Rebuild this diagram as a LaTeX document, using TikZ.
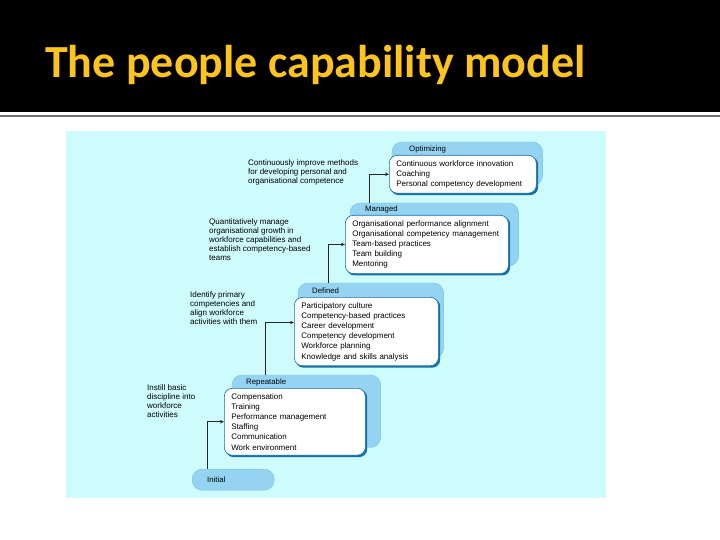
\documentclass[tikz,border=0pt]{standalone}
\usepackage{fontspec}
\setmainfont{Liberation Sans}
\newfontfamily\titlefont{Carlito}
\usepackage{tikz}
\usetikzlibrary{
  arrows.meta,
  positioning,
  fit,
  backgrounds
}
\definecolor{titleyellow}{RGB}{252,196,28}
\definecolor{panelcyan}{RGB}{206,251,252}
\definecolor{tabblue}{RGB}{148,212,242}
\definecolor{tabedge}{RGB}{120,192,230}
\definecolor{edgeblue}{RGB}{22,112,168}
\definecolor{rulegray}{RGB}{112,112,112}

\begin{document}
\begin{tikzpicture}[x=1pt, y=-1pt,
  stage/.style={draw=edgeblue, line width=0.6pt, fill=white, rounded corners=8pt,
                anchor=north west, align=left, inner xsep=7pt, inner ysep=5pt,
                font=\fontsize{8}{10.2}\selectfont},
  tab/.style={fill=tabblue, draw=tabedge, line width=0.4pt, rounded corners=10pt,
              inner sep=0pt},
  tablbl/.style={anchor=base west, inner sep=0pt, font=\fontsize{7.8}{9}\selectfont},
  goal/.style={anchor=north west, align=left, inner sep=0pt,
               font=\fontsize{8}{8.8}\selectfont},
  arr/.style={-{Stealth[length=4pt, width=3.5pt]}, line width=0.7pt, black!85}
]
  \useasboundingbox (0,0) rectangle (720,540);

  % Title
  \node[anchor=base west, inner sep=0pt, text=titleyellow,
        font=\titlefont\bfseries\fontsize{46}{50}\selectfont] (title) at (45,78)
        {The people capability model};

  % Stages
  \node[stage, text width=133pt] (opt) at (389,155)
        {Continuous workforce innovation\\Coaching\\Personal competency development};
  \node[stage, text width=149pt] (man) at (345,215)
        {Organisational performance alignment\\Organisational competency management\\
         Team-based practices\\Team building\\Mentoring};
  \node[stage, text width=130pt] (def) at (294,297)
        {Participatory culture\\Competency-based practices\\Career development\\
         Competency development\\Workforce planning\\Knowledge and skills analysis};
  \node[stage, text width=127pt] (rep) at (224,388)
        {Compensation\\Training\\Performance management\\Staffing\\
         Communication\\Work environment};
  \node[tab, anchor=north west, minimum width=82pt, minimum height=21pt,
        text width=52pt, inner xsep=15pt, align=left,
        font=\fontsize{7.8}{9}\selectfont] (ini) at (192,469) {Initial};

  % Tab labels
  \node[tablbl] (optlbl) at ([shift={(20,-3.5)}]opt.north west) {Optimizing};
  \node[tablbl] (manlbl) at ([shift={(20,-3.5)}]man.north west) {Managed};
  \node[tablbl] (deflbl) at ([shift={(18,-3.5)}]def.north west) {Defined};
  \node[tablbl] (replbl) at ([shift={(22,-3.5)}]rep.north west) {Repeatable};

  % Goals
  \node[goal] (optgoal) at (248,160)
        {Continuously improve methods\\for developing personal and\\organisational competence};
  \node[goal] (mangoal) at (209,219)
        {Quantitatively manage\\organisational growth in\\workforce capabilities and\\
         establish competency-based\\teams};
  \node[goal] (defgoal) at (190,292)
        {Identify primary\\competencies and\\align workforce\\activities with them};
  \node[goal] (repgoal) at (147,385)
        {Instill basic\\discipline into\\workforce\\activities};

  % Backgrounds, tabs and shadows
  \begin{scope}[on background layer]
    \fill[black] (0,0) rectangle (720,112.5);
    \fill[rulegray] (0,115.5) rectangle (720,117.5);
    \fill[panelcyan] (66,131) rectangle (606,498);

    \node[tab, fit={([shift={(3,-13)}]opt.north west) ([shift={(6,-8)}]opt.south east)}] (optback) {};
    \node[tab, fit={([shift={(5,-12)}]man.north west) ([shift={(10,-8)}]man.south east)}] (manback) {};
    \node[tab, fit={([shift={(4,-14)}]def.north west) ([shift={(5,-8)}]def.south east)}] (defback) {};
    \node[tab, fit={([shift={(8,-13)}]rep.north west) ([shift={(15,-8)}]rep.south east)}] (repback) {};

    \foreach \s in {opt,man,def,rep}
      \fill[edgeblue, rounded corners=8pt]
        ([shift={(1.6,1.6)}]\s.north west) rectangle ([shift={(1.6,1.6)}]\s.south east);
  \end{scope}

  % Connectors
  \draw[arr] ([xshift=15pt]ini.north west) |- (rep.west);
  \draw[arr] ([xshift=34pt]repback.north west) |- ([yshift=9pt]def.west);
  \draw[arr] ([xshift=31pt]defback.north west) |- (man.west);
  \draw[arr] ([xshift=20pt]manback.north west) |- (opt.west);
\end{tikzpicture}
\end{document}
